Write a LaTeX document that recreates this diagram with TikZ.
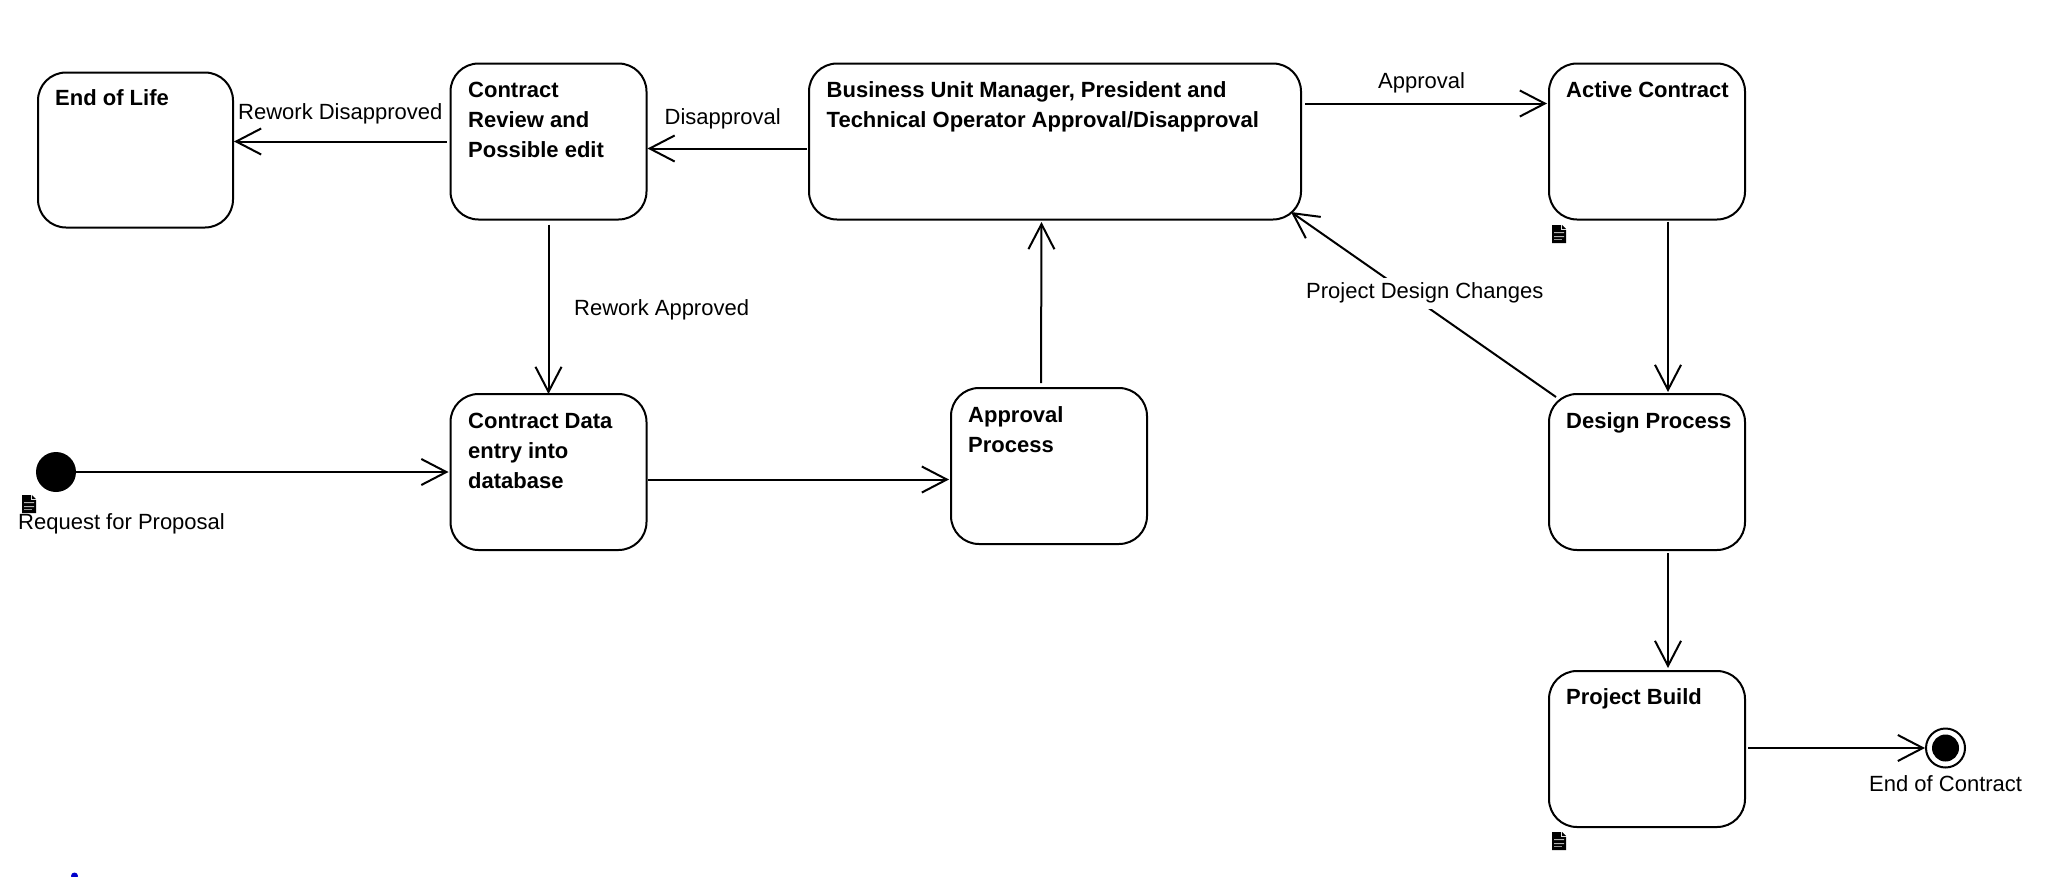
\documentclass[tikz,border=0pt]{standalone}
\usepackage{fontspec}
\setmainfont{Liberation Sans}
\usetikzlibrary{arrows.meta,calc}
\tikzset{
  statebox/.style={draw=black,line width=2pt,rounded corners=28pt,fill=white,inner sep=0pt,minimum width=196pt,minimum height=156pt},
  title/.style={anchor=north west,inner sep=0pt,align=left,font=\fontsize{22}{30}\selectfont\bfseries},
  lbl/.style={anchor=base west,inner sep=0pt,font=\fontsize{22}{28}\selectfont},
  conn/.style={draw=black,line width=2pt,-{Straight Barb[length=25pt,width=26pt,line width=2pt]}},
  startdot/.style={circle,fill=black,inner sep=0pt,minimum size=40pt},
  enddot/.style={circle,draw=black,line width=2pt,fill=white,inner sep=0pt,minimum size=39pt},
  docicon/.pic={
    \fill[black] (0,0) -- (9,0) -- (9,5) -- (14,5) -- (14,18) -- (0,18) -- cycle;
    \fill[black] (10,0) -- (14,4) -- (10,4) -- cycle;
    \fill[white!70!black] (2,7) rectangle (12,8) (2,11) rectangle (12,12);
    \fill[white!60!black] (2,14) rectangle (10,15);
  }
}
\begin{document}
\begin{tikzpicture}[x=1pt,y=-1pt]
\useasboundingbox (0,0) rectangle (2048,876);
\clip (0,0) rectangle (2048,876);
% states
\node[statebox,minimum width=195pt,minimum height=155pt] (eol) at (135.5,150) {};
\node[statebox] (review) at (548.5,141.5) {};
\node[statebox,minimum width=492pt] (biz) at (1055,141.5) {};
\node[statebox] (active) at (1647,141.5) {};
\node[statebox] (data) at (548.5,472) {};
\node[statebox] (appr) at (1049,466) {};
\node[statebox] (design) at (1647,472) {};
\node[statebox] (build) at (1647,749) {};
\node[startdot] (init) at (56,472) {};
\node[enddot] (final) at (1945.5,748) {};
\node[circle,fill=black,inner sep=0pt,minimum size=27pt] (finaldot) at (final) {};
% titles
\node[title] (t1) at (55,89.5) {End of Life};
\node[title] (t2) at (468,81.5) {Contract\\Review and\\Possible edit};
\node[title] (t3) at (826.5,81.5) {Business Unit Manager, President and\\Technical Operator Approval/Disapproval};
\node[title] (t4) at (1566,81.5) {Active Contract};
\node[title] (t5) at (468,412.5) {Contract Data\\entry into\\database};
\node[title] (t6) at (968,406.5) {Approval\\Process};
\node[title] (t7) at (1566,412) {Design Process};
\node[title] (t8) at (1566,688) {Project Build};
% connectors
\draw[conn] ([xshift=-3pt]review.west) -- ([xshift=0pt]eol.east |- review.west);
\draw[conn] ([xshift=-1pt,yshift=-7pt]biz.west) -- ([xshift=0pt,yshift=-7pt]review.east);
\draw[conn] ([xshift=3pt,yshift=38pt]biz.east) -- ([xshift=-1pt,yshift=38pt]active.west);
\draw[conn] ([yshift=-4pt]review.south) -- ([yshift=-1pt]data.north);
\draw[conn] (init.east) -- ([xshift=-1pt]data.west |- init.east);
\draw[conn] ([yshift=-7.5pt]data.east) -- ([xshift=-1pt,yshift=-7.5pt]data.east -| appr.west);
\draw[conn] ([xshift=-8pt,yshift=4pt]appr.north) -- ([xshift=-13.5pt,yshift=-1.5pt]biz.south);
\draw[conn] ([xshift=21pt,yshift=-1pt]active.south) -- ([xshift=21pt,yshift=1pt]design.north);
\draw[conn] ([xshift=21pt,yshift=-2pt]design.south) -- ([xshift=21pt,yshift=2pt]build.north);
\draw[conn] ([xshift=2pt]build.east |- final.west) -- (final.west);
\coordinate (dstart) at (1556,397);
\coordinate (dend) at (1291,212);
\draw[conn] (dstart) -- (dend);
% labels
\node[lbl] (l1) at (238,119) {Rework Disapproved};
\node[lbl] (l2) at (664.5,124) {Disapproval};
\node[lbl] (l3) at (1378,88) {Approval};
\node[lbl] (l4) at (574,315) {Rework Approved};
\node[lbl,fill=white,text height=21pt,text depth=10pt] (l5) at (1306,298.5) {Project Design Changes};
\node[lbl] (l6) at (18,529) {Request for Proposal};
\node[lbl] (l7) at (1869,791) {End of Contract};
% document icons
\pic at (1552,225) {docicon};
\pic at (22,495) {docicon};
\pic at (1552,832) {docicon};
% blue mark cut by the lower edge
\fill[blue!80!black] (74.5,876) circle (3.5pt);
\end{tikzpicture}
\end{document}
